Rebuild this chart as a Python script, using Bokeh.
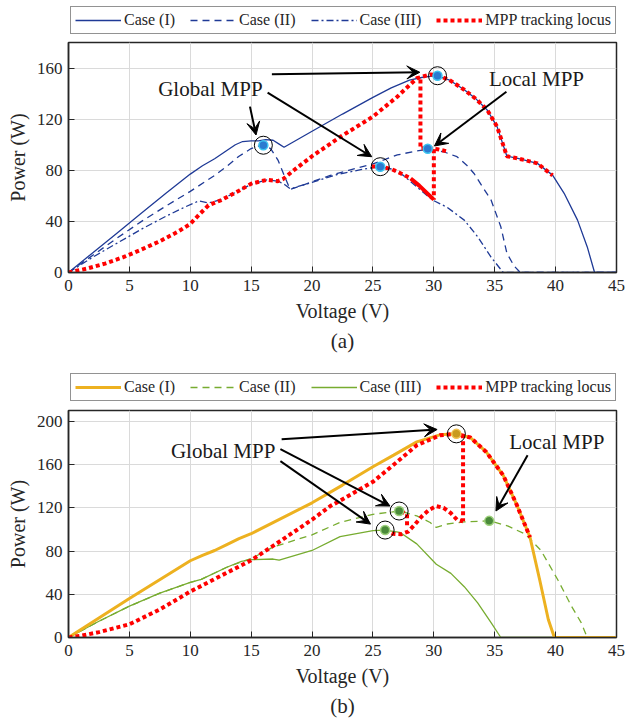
from bokeh.plotting import figure
from bokeh.models import (Range1d, FixedTicker, Legend, LegendItem, Arrow, VeeHead,
                          Label, Title)
from bokeh.layouts import column
from bokeh.embed import file_html
from bokeh.resources import INLINE

FONT = "'Liberation Serif', 'Times New Roman', serif"

# ---------------- data: panel (a) ----------------
x_ticks = [0, 5, 10, 15, 20, 25, 30, 35, 40, 45]
a_y_ticks = [0, 40, 80, 120, 160]
b_y_ticks = [0, 40, 80, 120, 160, 200]
legend_labels = ["Case (I)", "Case (II)", "Case (III)", "MPP tracking locus"]

a1_v = [0, 2, 4, 6, 8, 10, 11, 12, 13, 13.7, 14.3, 15, 15.6, 16.2, 16.8, 17.3, 17.7, 20,
        22.5, 25, 26.5, 28, 29.2, 30.2, 31.3, 32.5, 33.5, 34.4, 35.2, 36.0, 36.9, 38.5,
        39.75, 40.7, 41.8, 42.6, 43.2, 45]
a1_p = [0, 15.5, 31, 46.5, 62, 77, 83.5, 89, 95.5, 100, 102.5, 103, 103, 104, 103.5,
        100.5, 98, 110.5, 124, 137, 144.5, 150.5, 153, 154, 150.5, 143, 135.5, 127, 114,
        91, 89.3, 85.4, 76.2, 62, 41, 20, 0, 0]

a2_v = [0, 2, 4, 6, 8, 10, 12, 13, 14, 15, 15.9, 16.6, 17.2, 17.8, 18.2, 19, 20, 21.5,
        23, 25, 27, 28.5, 29.5, 30.8, 31.9, 32.7, 33.3, 34, 34.7, 35.5, 36, 36.6, 37.1, 45]
a2_p = [0, 13.5, 27, 40, 52, 63.5, 76, 83, 91, 97, 99.7, 97, 88, 74, 65, 67.5, 71, 76,
        80, 85, 92, 95, 96.3, 94.5, 90.6, 84, 77.5, 67, 56.7, 35.8, 15, 5, 0, 0]

a3_v = [0, 2, 4, 6, 8, 9.5, 10.7, 11.5, 12.5, 14, 15, 16.3, 17.2, 17.8, 18.2, 20, 22, 24,
        25, 25.6, 26.5, 27.5, 28.6, 29.9, 31.1, 32.5, 33.6, 34.7, 35.7, 45]
a3_p = [0, 12, 23, 34, 44, 51, 56, 54.5, 57, 64, 69, 72.5, 71.5, 68.5, 65.5, 70.5, 76.5,
        80.5, 82, 82.8, 81, 76, 67, 56.7, 51, 41, 28, 12, 0, 0]

a_loc_v = [0, 1.5, 3, 4.5, 6, 7.5, 9, 10, 10.8, 11.5, 12.5, 14, 15, 16.3, 17.2, 17.6, 18.5,
           20, 22.3, 25, 27, 28.6, 29.7, 30.3, 31.3, 32.5, 33.5, 34.4, 35.2, 36.0, 36.9,
           38.5, 39.75]
a_loc_p = [0, 3, 7, 12, 18, 24.5, 32, 38, 46, 52.6, 56.5, 64, 69.5, 72.5, 71.5, 73, 80,
           91, 106, 122, 137.6, 152, 155, 154.5, 150.5, 143, 135.5, 127, 114, 91, 89.3,
           85.4, 76]
a_jump1_v = [28.9, 28.9, 29.5, 30.3, 31.0]
a_jump1_p = [151, 97, 97.5, 96.5, 95]
a_jump2_v = [30.0, 30.0]
a_jump2_p = [96.5, 57]
a_back_v = [24.9, 25.6, 26.5, 27.3, 28.1]
a_back_p = [83, 83, 81, 77.5, 73.6]
a_thick_v = [28.1, 28.8, 29.4, 30.0]
a_thick_p = [73.6, 68, 62.5, 57]

a_gmpp_v = [16.0, 25.6, 30.3]
a_gmpp_p = [99.6, 82.8, 154]
a_lmpp_v = [29.5]
a_lmpp_p = [96.9]

a_text = ["Global MPP", "Local MPP"]
a_text_v = [11.65, 38.43]
a_text_p = [144, 151.2]
a_arrow_v0 = [14.9, 16.35, 16.7, 35.96]
a_arrow_p0 = [129.8, 140.7, 155.1, 141.5]
a_arrow_v1 = [15.4, 24.9, 28.85, 30.05]
a_arrow_p1 = [107.6, 90.6, 156.7, 99]

# ---------------- data: panel (b) ----------------
b1_v = [0, 5, 10, 11, 12, 13, 14, 15, 20, 22.5, 25, 26.7, 28.6, 30.5, 31.8, 33, 34.3,
        35.7, 36.8, 37.9, 38.7, 39.4, 39.9, 45]
b1_p = [0, 36, 71, 76, 80.5, 86, 91.5, 96, 124.6, 141, 158, 168.7, 181, 187.5, 188.4,
        185, 171.7, 150, 123, 92.7, 53, 16.7, 0, 0]

b2_v = [0, 2.5, 5, 7.5, 10, 10.9, 13, 14.2, 15, 16.8, 20, 22.3, 25, 27.2, 28.6, 29.7,
        30.2, 31.1, 32.5, 34.6, 36.1, 37.5, 38.8, 40.2, 41.3, 42.1, 42.6, 45]
b2_p = [0, 15, 29, 41, 51, 53.8, 65, 70, 73, 83.6, 95, 106.5, 114, 117, 112.5, 106.4,
        101.8, 105, 107, 108, 103, 95.7, 80.5, 53, 29, 13.7, 0, 0]

b3_v = [0, 2.5, 5, 7.5, 10, 10.9, 13, 14.2, 15, 16.8, 17.3, 20, 22.3, 25, 26, 27.2, 28.6,
        30.2, 31.4, 32.5, 33.6, 34.7, 35.5, 45]
b3_p = [0, 15, 29, 41, 51, 53.8, 65, 70.5, 72, 72.6, 71.5, 80.5, 93.3, 98.8, 99.4, 97.3,
        86.6, 67.8, 59.3, 47, 32, 13.7, 0, 0]

b_loc_v = [0, 1, 2.5, 5, 7.5, 10, 12.5, 15, 17.5, 20, 21.5, 22.3, 25, 27, 28.6, 30.5,
           31.8, 33, 34.3, 35.7, 36.8, 37.9]
b_loc_p = [0, 1.5, 5, 12.2, 26, 42.5, 57, 71.4, 90, 109, 121.6, 126.5, 144, 162.6, 177.8,
           187, 188.4, 185, 171.7, 150, 123, 92.7]
b_jump_v = [32.4, 32.4]
b_jump_p = [188, 107.5]
b_wig_v = [26.0, 26.6, 27.3, 27.9, 28.4, 29.0, 29.6, 30.2, 30.8, 31.4, 31.9, 32.4]
b_wig_p = [99, 96, 95.5, 98, 104, 112, 118, 121.5, 120, 115, 109, 107.5]
b_drop_v = [27.3, 27.8, 27.8]
b_drop_p = [117, 114, 101]

b_gmpp1_v = [31.85]
b_gmpp1_p = [188.4]
b_gmpp_v = [27.15, 26.0]
b_gmpp_p = [117, 99.4]
b_lmpp_v = [34.55]
b_lmpp_p = [107.9]

b_text = ["Global MPP", "Local MPP"]
b_text_v = [12.7, 40.1]
b_text_p = [172.6, 180.9]
b_arrow_v0 = [17.5, 17.4, 17.4, 37.7]
b_arrow_p0 = [183.3, 174.2, 163.2, 168.7]
b_arrow_v1 = [30.27, 26.4, 24.8, 35.1]
b_arrow_p1 = [192.4, 121.6, 104.9, 117]

RED = "#ff0000"
BLUE = "#1f3a96"
ORANGE = "#EDB120"
GREEN = "#77AC30"
FRAME = "#262626"
DOT = "4 3"


def make_fig(ymax, yticks, height, bottom):
    p = figure(width=639, height=height, output_backend="svg", toolbar_location=None,
               x_range=Range1d(0, 45), y_range=Range1d(0, ymax),
               min_border_left=68, min_border_right=23,
               min_border_top=2, min_border_bottom=bottom)
    p.outline_line_color = FRAME
    p.outline_line_width = 1.5
    p.background_fill_color = "white"
    p.border_fill_color = "white"
    p.xaxis.ticker = FixedTicker(ticks=x_ticks)
    p.yaxis.ticker = FixedTicker(ticks=yticks)
    p.xgrid.ticker = FixedTicker(ticks=x_ticks)
    p.ygrid.ticker = FixedTicker(ticks=yticks)
    p.grid.grid_line_color = "#dadada"
    p.grid.grid_line_width = 1
    for ax in (p.xaxis, p.yaxis):
        ax.major_tick_in = 6
        ax.major_tick_out = 0
        ax.minor_tick_line_color = None
        ax.axis_line_color = FRAME
        ax.axis_line_width = 1.5
        ax.major_tick_line_color = FRAME
        ax.major_label_text_font = FONT
        ax.major_label_text_font_size = "17px"
        ax.major_label_text_color = "#262626"
        ax.axis_label_text_font = FONT
        ax.axis_label_text_font_size = "20px"
        ax.axis_label_text_font_style = "normal"
        ax.axis_label_text_color = "#262626"
    p.xaxis.major_label_standoff = 7
    p.yaxis.major_label_standoff = 6
    p.xaxis.axis_label_standoff = 6
    p.yaxis.axis_label_standoff = 5
    p.xaxis.axis_label = "Voltage (V)"
    p.yaxis.axis_label = "Power (W)"
    return p


def legend_fig(height, loc, styles, series):
    # the series are drawn far outside the visible range: only the legend shows
    lf = figure(width=639, height=height, output_backend="svg", toolbar_location=None,
                x_range=Range1d(0, 1), y_range=Range1d(-1001, -1000),
                x_axis_location=None, y_axis_location=None,
                min_border_left=0, min_border_right=0, min_border_top=0,
                min_border_bottom=0)
    lf.outline_line_color = None
    lf.grid.visible = False
    rends = [lf.line(v, p, **st) for st, (v, p) in zip(styles, series)]
    items = [LegendItem(label=l, renderers=[r]) for l, r in zip(legend_labels, rends)]
    leg = Legend(items=items, orientation="horizontal", location=loc,
                 label_text_font=FONT, label_text_font_size="16px",
                 label_text_color="#262626",
                 glyph_width=46, glyph_height=18, label_standoff=3, spacing=15,
                 padding=4, margin=0, border_line_color=FRAME, border_line_width=1.5,
                 background_fill_alpha=1.0)
    lf.add_layout(leg, "center")
    return lf


def caption(p, text):
    p.add_layout(Title(text=text, align="center", text_font=FONT,
                       text_font_size="21px", text_font_style="normal",
                       text_color="#262626", standoff=5), "below")


def annotate(p, texts, tv, tp, v0, p0, v1, p1):
    for t, x, y in zip(texts, tv, tp):
        p.add_layout(Label(x=x, y=y, text=t, text_align="center", text_baseline="middle",
                           text_font=FONT, text_font_size="21px", text_color="#1a1a1a"))
    for xs, ys, xe, ye in zip(v0, p0, v1, p1):
        p.add_layout(Arrow(end=VeeHead(size=13, fill_color="black", line_color="black"),
                           x_start=xs, y_start=ys, x_end=xe, y_end=ye,
                           line_color="black", line_width=2))


st_a = [dict(line_color=BLUE, line_width=1.3),
        dict(line_color=BLUE, line_width=1.3, line_dash="7 5"),
        dict(line_color=BLUE, line_width=1.3, line_dash="7 3 2 3"),
        dict(line_color=RED, line_width=4, line_dash=DOT)]
st_b = [dict(line_color=ORANGE, line_width=3),
        dict(line_color=GREEN, line_width=1.3, line_dash="7 5"),
        dict(line_color=GREEN, line_width=1.3),
        dict(line_color=RED, line_width=4, line_dash=DOT)]

# ---------------- figure (a) ----------------
la = legend_fig(40, (2, 6), st_a,
                [(a1_v, a1_p), (a2_v, a2_p), (a3_v, a3_p), (a_loc_v, a_loc_p)])
fa = make_fig(180, a_y_ticks, 320, 88)
fa.line(a1_v, a1_p, **st_a[0])
fa.line(a2_v, a2_p, **st_a[1])
fa.line(a3_v, a3_p, **st_a[2])
fa.line(a_loc_v, a_loc_p, **st_a[3])
fa.line(a_jump1_v, a_jump1_p, **st_a[3])
fa.line(a_jump2_v, a_jump2_p, **st_a[3])
fa.line(a_back_v, a_back_p, **st_a[3])
fa.line(a_thick_v, a_thick_p, line_color=RED, line_width=4)
fa.scatter(a_gmpp_v, a_gmpp_p, size=9, fill_color="#2b7bd0", line_color="#3cc4f0",
           line_width=1.5)
fa.scatter(a_lmpp_v, a_lmpp_p, size=9, fill_color="#2b7bd0", line_color="#3cc4f0",
           line_width=1.5)
fa.scatter(a_gmpp_v, a_gmpp_p, size=18, fill_color=None, line_color="black",
           line_width=1)
annotate(fa, a_text, a_text_v, a_text_p, a_arrow_v0, a_arrow_p0, a_arrow_v1, a_arrow_p1)
caption(fa, "(a)")

# ---------------- figure (b) ----------------
lb = legend_fig(48, (2, 7), st_b,
                [(b1_v, b1_p), (b2_v, b2_p), (b3_v, b3_p), (b_loc_v, b_loc_p)])
fb = make_fig(210, b_y_ticks, 312, 80)
fb.line(b3_v, b3_p, **st_b[2])
fb.line(b2_v, b2_p, **st_b[1])
fb.line(b1_v, b1_p, **st_b[0])
fb.line(b_loc_v, b_loc_p, **st_b[3])
fb.line(b_jump_v, b_jump_p, **st_b[3])
fb.line(b_wig_v, b_wig_p, **st_b[3])
fb.line(b_drop_v, b_drop_p, **st_b[3])
fb.scatter(b_gmpp1_v, b_gmpp1_p, size=9, fill_color="#c99a1e", line_color="#f0c050",
           line_width=1.5)
fb.scatter(b_gmpp_v, b_gmpp_p, size=9, fill_color="#4a8a3a", line_color="#9ccf7a",
           line_width=1.5)
fb.scatter(b_lmpp_v, b_lmpp_p, size=9, fill_color="#4a8a3a", line_color="#9ccf7a",
           line_width=1.5)
fb.scatter(b_gmpp1_v + b_gmpp_v, b_gmpp1_p + b_gmpp_p, size=18, fill_color=None,
           line_color="black", line_width=1)
annotate(fb, b_text, b_text_v, b_text_p, b_arrow_v0, b_arrow_p0, b_arrow_v1, b_arrow_p1)
caption(fb, "(b)")

layout = column(la, fa, lb, fb, spacing=0)
open("out.html", "w").write(file_html(layout, INLINE))
